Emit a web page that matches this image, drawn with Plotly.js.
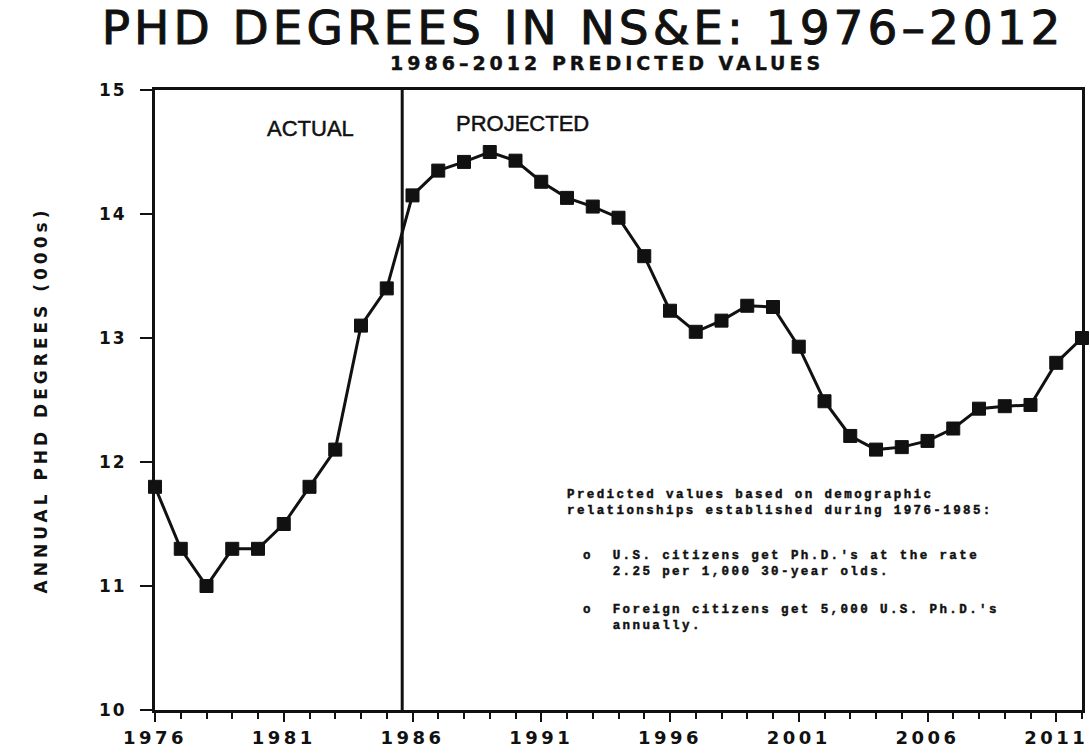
<!DOCTYPE html>
<html>
<head>
<meta charset="utf-8">
<script src="https://cdn.plot.ly/plotly-3.0.1.min.js"></script>
<style>
html,body{margin:0;padding:0;background:#fff;}
#chart{width:1090px;height:754px;}
#chart .gtitle{letter-spacing:4px;stroke:#111;stroke-width:1px;}
#chart .ytitle{letter-spacing:4px;}
#chart .xtick text{letter-spacing:3.5px;}
#chart .ytick text{letter-spacing:2px;}
#chart g.annotation[data-index="0"] text{letter-spacing:4px;stroke:#111;stroke-width:0.4px;}
#chart g.annotation[data-index="1"] text,
#chart g.annotation[data-index="2"] text{stroke:#111;stroke-width:0.5px;}
#chart g.annotation[data-index="3"] text,
#chart g.annotation[data-index="4"] text,
#chart g.annotation[data-index="5"] text{letter-spacing:2.4px;stroke:#111;stroke-width:0.45px;}
</style>
</head>
<body>
<div id="chart"></div>
<script>
const years = [1976,1977,1978,1979,1980,1981,1982,1983,1984,1985,1986,1987,1988,1989,1990,1991,1992,1993,1994,1995,1996,1997,1998,1999,2000,2001,2002,2003,2004,2005,2006,2007,2008,2009,2010,2011,2012];
const phdDegrees = [11.8,11.3,11.0,11.3,11.3,11.5,11.8,12.1,13.1,13.4,14.15,14.35,14.42,14.5,14.43,14.26,14.13,14.06,13.97,13.66,13.22,13.05,13.14,13.26,13.25,12.93,12.49,12.21,12.1,12.12,12.17,12.27,12.43,12.45,12.46,12.8,13.0];
const xTickVals = [1976,1981,1986,1991,1996,2001,2006,2011];
const xTickText = ['1976','1981','1986','1991','1996','2001','2006','2011'];
const yTickVals = [10,11,12,13,14,15];
const dividerYear = 1985.6;
const noteBlocks = [
  ['Predicted values based on demographic', 'relationships established during 1976-1985:'],
  ['o  U.S. citizens get Ph.D.\'s at the rate', '   2.25 per 1,000 30-year olds.'],
  ['o  Foreign citizens get 5,000 U.S. Ph.D.\'s', '   annually.']
];

const trace = {
  x: years, y: phdDegrees, type: 'scatter', mode: 'lines+markers',
  line: {color: '#111', width: 3},
  marker: {symbol: 'square', size: 13, color: '#111', line: {color: '#111', width: 1}},
  cliponaxis: false, hoverinfo: 'skip'
};

// note block placement (paper coords)
const notePlace = [[0.4428, 0.3331], [0.4600, 0.2355], [0.4600, 0.1476]];
const noteAnns = noteBlocks.map((lines, i) => ({
  text: lines.map(s => s.replace(/ /g, '\u00a0')).join('<br>'), xref: 'paper', yref: 'paper',
  x: notePlace[i][0], y: notePlace[i][1], xanchor: 'left', yanchor: 'middle', align: 'left',
  showarrow: false,
  font: {family: 'Liberation Mono, DejaVu Sans Mono, monospace', size: 12.5, color: '#111', weight: 'bold'}
}));

const layout = {
  width: 1090, height: 754,
  margin: {l: 155, r: 8, t: 90, b: 44},
  paper_bgcolor: '#fff', plot_bgcolor: '#fff',
  showlegend: false,
  title: {text: 'PHD DEGREES IN NS&amp;E: 1976\u20132012', x: 0.535, xanchor: 'center', y: 0.964, yanchor: 'middle',
    font: {family: 'DejaVu Sans, sans-serif', size: 47, color: '#111'}},
  xaxis: {
    range: [1976, 2012], tickmode: 'array', tickvals: xTickVals, ticktext: xTickText,
    ticks: 'outside', ticklen: 9, tickwidth: 2, tickcolor: '#111',
    minor: {dtick: 1, tick0: 1976, ticks: 'outside', ticklen: 6, tickwidth: 2, tickcolor: '#111', showgrid: false},
    showline: true, linecolor: '#111', linewidth: 3, mirror: true,
    showgrid: false, zeroline: false,
    tickfont: {family: 'DejaVu Sans, sans-serif', size: 18, color: '#111', weight: 'bold'}
  },
  yaxis: {
    range: [10, 15], tickmode: 'array', tickvals: yTickVals,
    ticks: 'outside', ticklen: 12, tickwidth: 2, tickcolor: '#111', ticklabelstandoff: 10,
    showline: true, linecolor: '#111', linewidth: 3, mirror: true,
    showgrid: false, zeroline: false,
    tickfont: {family: 'DejaVu Sans, sans-serif', size: 17, color: '#111', weight: 'bold'},
    title: {text: 'ANNUAL PHD DEGREES (000s)', standoff: 51,
      font: {family: 'DejaVu Sans, sans-serif', size: 17, color: '#111', weight: 'bold'}}
  },
  shapes: [
    {type: 'line', xref: 'x', yref: 'paper', x0: dividerYear, x1: dividerYear, y0: 0, y1: 1,
      line: {color: '#111', width: 3}}
  ],
  annotations: [
    {text: '1986\u20132012 PREDICTED VALUES', xref: 'paper', yref: 'paper', x: 0.488, y: 1.044, xanchor: 'center', yanchor: 'middle',
      showarrow: false, font: {family: 'DejaVu Sans, sans-serif', size: 19, color: '#111', weight: 'bold'}},
    {text: 'ACTUAL', xref: 'x', yref: 'paper', x: 1982.03, y: 0.938, xanchor: 'center', yanchor: 'middle',
      showarrow: false, font: {family: 'Liberation Sans, Arial, sans-serif', size: 22, color: '#111'}},
    {text: 'PROJECTED', xref: 'x', yref: 'paper', x: 1990.28, y: 0.946, xanchor: 'center', yanchor: 'middle',
      showarrow: false, font: {family: 'Liberation Sans, Arial, sans-serif', size: 22, color: '#111'}}
  ].concat(noteAnns)
};

Plotly.newPlot('chart', [trace], layout, {displayModeBar: false, staticPlot: true});
</script>
</body>
</html>
